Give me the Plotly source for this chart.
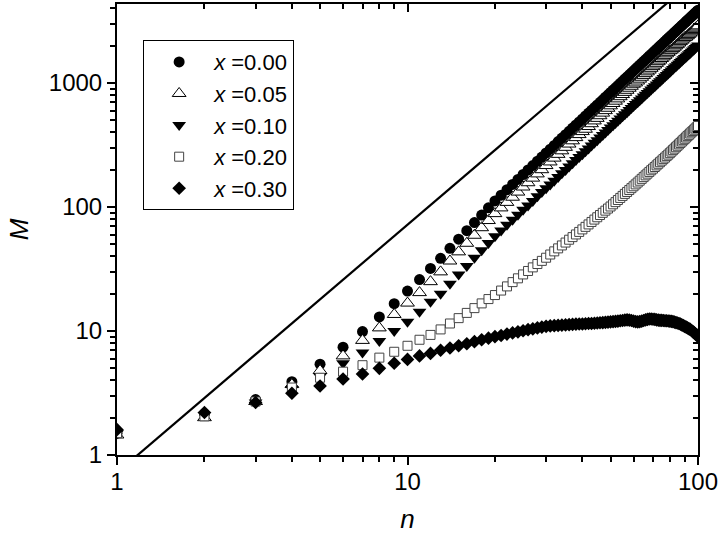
import plotly.graph_objects as go

n_vals = list(range(1, 101))

m_x000 = [1.5, 2.15, 2.8, 3.9, 5.4, 7.4, 9.9, 13.0, 16.6, 21.0,
          26.0, 32.0, 38.6, 46.4, 55.0, 64.5, 74.9, 86.2, 98.5, 112,
          124.5, 138, 152, 167, 183, 199, 216, 234, 253, 273,
          293, 314, 337, 360, 383, 408, 433, 459, 486, 514,
          543, 572, 603, 634, 666, 699, 733, 768, 803, 840,
          877, 915, 955, 995, 1036, 1078, 1120, 1164, 1208, 1254,
          1301, 1348, 1396, 1446, 1496, 1547, 1599, 1652, 1706, 1761,
          1816, 1873, 1931, 1990, 2049, 2110, 2171, 2234, 2297, 2362,
          2427, 2493, 2561, 2629, 2699, 2769, 2840, 2913, 2986, 3060,
          3136, 3212, 3289, 3368, 3447, 3527, 3608, 3691, 3774, 3859]

m_x005 = [1.45, 2.0, 2.7, 3.7, 4.8, 6.3, 8.4, 10.6, 13.6, 16.8,
          20.4, 25.0, 30.0, 36.7, 43.5, 51.0, 59.2, 68.1, 77.8, 88.5,
          98.4, 109, 120, 132, 145, 157, 171, 185, 200, 216,
          231, 248, 266, 284, 303, 322, 342, 363, 384, 406,
          424, 446, 470, 495, 519, 545, 572, 599, 626, 655,
          684, 714, 745, 776, 808, 841, 874, 908, 942, 978,
          1002, 1038, 1075, 1113, 1152, 1191, 1231, 1272, 1314, 1356,
          1398, 1442, 1487, 1532, 1578, 1625, 1672, 1720, 1769, 1819,
          1845, 1895, 1946, 1998, 2051, 2104, 2158, 2214, 2269, 2326,
          2352, 2409, 2467, 2526, 2585, 2645, 2706, 2768, 2831, 2894]

m_x010 = [1.5, 2.1, 2.65, 3.4, 4.3, 5.5, 6.7, 8.3, 10.0, 11.9,
          14.3, 17.2, 20.0, 24.1, 28.6, 33.5, 38.9, 44.8, 51.2, 58.2,
          64.7, 71.8, 79.0, 86.8, 95.2, 103, 112, 122, 132, 142,
          152, 163, 175, 187, 199, 212, 225, 239, 253, 267,
          282, 297, 314, 330, 346, 363, 381, 399, 418, 437,
          456, 476, 497, 517, 539, 561, 582, 605, 628, 652,
          677, 701, 726, 752, 778, 804, 831, 859, 887, 916,
          944, 974, 1004, 1035, 1065, 1097, 1129, 1162, 1194, 1228,
          1262, 1296, 1332, 1367, 1403, 1440, 1477, 1515, 1553, 1591,
          1631, 1670, 1710, 1751, 1792, 1834, 1876, 1919, 1962, 2007]

m_x020 = [1.5, 2.05, 2.7, 3.5, 4.2, 4.7, 5.3, 6.1, 6.8, 7.6,
          8.5, 9.3, 10.3, 11.5, 12.7, 14.0, 15.3, 16.7, 18.1, 19.5,
          21.2, 22.9, 24.8, 26.6, 28.6, 30.5, 32.6, 34.7, 36.8, 39.0,
          41.4, 43.9, 46.4, 49.0, 51.7, 54.5, 57.2, 60.1, 63.0, 66.0,
          69.2, 72.4, 75.8, 79.2, 82.7, 86.2, 89.8, 93.5, 97.2, 101,
          105.2, 109.5, 113.9, 118.4, 122.9, 127.6, 132.3, 137.1, 142.0, 147,
          152.3, 157.6, 163.1, 168.7, 174.3, 180.1, 185.9, 191.9, 198.0, 204,
          210.3, 216.7, 223.3, 229.9, 236.6, 243.5, 250.4, 257.4, 264.6, 272,
          279.7, 287.6, 295.6, 303.7, 312.0, 320.3, 328.8, 337.4, 346.1, 355,
          364, 373, 382, 392, 401, 410, 420, 430, 440, 450]

m_x030 = [1.6, 2.2, 2.65, 3.15, 3.6, 4.1, 4.5, 5.0, 5.5, 5.9,
          6.3, 6.6, 7.0, 7.3, 7.6, 7.9, 8.2, 8.5, 8.75, 9.0,
          9.2, 9.45, 9.65, 9.85, 10.05, 10.25, 10.4, 10.6, 10.75, 10.9,
          11.0, 11.05, 11.1, 11.15, 11.2, 11.25, 11.3, 11.35, 11.4, 11.4,
          11.45, 11.5, 11.5, 11.55, 11.6, 11.65, 11.7, 11.75, 11.8, 11.85,
          11.9, 11.95, 12.0, 12.1, 12.15, 12.25, 12.3, 12.25, 12.15, 12.0,
          11.9, 11.85, 11.9, 12.0, 12.15, 12.3, 12.4, 12.5, 12.5, 12.45,
          12.4, 12.3, 12.25, 12.2, 12.2, 12.15, 12.1, 12.1, 12.05, 12.0,
          11.95, 11.9, 11.8, 11.7, 11.6, 11.5, 11.35, 11.2, 11.05, 10.9,
          10.75, 10.6, 10.45, 10.3, 10.1, 9.9, 9.7, 9.5, 9.3, 9.0]

line_n = [1, 100]
line_m = [0.72, 7200]

series_names = ["<i>x</i> =0.00", "<i>x</i> =0.05", "<i>x</i> =0.10",
                "<i>x</i> =0.20", "<i>x</i> =0.30"]

x_tickvals = [1, 10, 100]
x_ticktext = ["1", "10", "100"]
x_minor = [2, 3, 4, 5, 6, 7, 8, 9, 20, 30, 40, 50, 60, 70, 80, 90]
y_tickvals = [1, 10, 100, 1000]
y_ticktext = ["1", "10", "100", "1000"]
y_minor = [2, 3, 4, 5, 6, 7, 8, 9, 20, 30, 40, 50, 60, 70, 80, 90,
           200, 300, 400, 500, 600, 700, 800, 900, 2000, 3000, 4000]

FONT = "Arial, Liberation Sans, sans-serif"

fig = go.Figure()

fig.add_trace(go.Scatter(x=line_n, y=line_m, mode="lines",
                         line=dict(color="black", width=2.2),
                         showlegend=False, hoverinfo="skip"))

styles = [
    dict(symbol="circle", size=11, color="black", line=dict(color="black", width=0)),
    dict(symbol="triangle-up", size=12, color="white", line=dict(color="black", width=1)),
    dict(symbol="triangle-down", size=12, color="black", line=dict(color="black", width=0)),
    dict(symbol="square", size=9, color="white", line=dict(color="#444444", width=1)),
    dict(symbol="diamond", size=10.5, color="black", line=dict(color="black", width=0)),
]
data = [m_x000, m_x005, m_x010, m_x020, m_x030]

for name, vals, st in zip(series_names, data, styles):
    fig.add_trace(go.Scatter(x=n_vals, y=vals, mode="markers", name=name,
                             marker=st, cliponaxis=True))

# invisible trace so the mirrored (inside) tick axes on top/right are drawn
fig.add_trace(go.Scatter(x=line_n, y=line_m, xaxis="x2", yaxis="y2",
                         mode="lines", line=dict(width=0, color="rgba(0,0,0,0)"),
                         showlegend=False, hoverinfo="skip"))

ymax_log = 3.6375

def minor_cfg(vals, side):
    return dict(tickmode="array", tickvals=vals, ticks=side, ticklen=5,
                tickwidth=1.5, tickcolor="black", showgrid=False)

fig.update_layout(
    width=720, height=537,
    margin=dict(l=117, r=22, t=4, b=82, autoexpand=False),
    paper_bgcolor="white", plot_bgcolor="white",
    font=dict(family=FONT, color="black", size=24),
    showlegend=True,
    legend=dict(x=0.045, y=0.92, xanchor="left", yanchor="top",
                bordercolor="black", borderwidth=1, bgcolor="white",
                itemwidth=60,
                font=dict(size=22, family=FONT), tracegroupgap=0),
    xaxis=dict(type="log", range=[0, 2], showgrid=False, zeroline=False,
               automargin=False,
               tickmode="array", tickvals=x_tickvals, ticktext=x_ticktext,
               ticks="outside", ticklen=8, tickwidth=2, tickcolor="black",
               ticklabelstandoff=-4,
               showline=True, linewidth=2, linecolor="black", mirror=True,
               minor=minor_cfg(x_minor, "outside"),
               title=dict(text="<i>n</i>", font=dict(size=26), standoff=16),
               tickfont=dict(size=24)),
    yaxis=dict(type="log", range=[0, ymax_log], showgrid=False, zeroline=False,
               automargin=False,
               tickmode="array", tickvals=y_tickvals, ticktext=y_ticktext,
               ticks="outside", ticklen=8, tickwidth=2, tickcolor="black",
               showline=True, linewidth=2, linecolor="black", mirror=True,
               minor=minor_cfg(y_minor, "outside"),
               title=dict(text="<i>M</i>", font=dict(size=26), standoff=13),
               tickfont=dict(size=24)),
    xaxis2=dict(type="log", range=[0, 2], overlaying="x", side="top",
                anchor="y", showgrid=False, zeroline=False, automargin=False,
                tickmode="array", tickvals=x_tickvals, showticklabels=False,
                ticks="inside", ticklen=8, tickwidth=2, tickcolor="black",
                minor=minor_cfg(x_minor, "inside")),
    yaxis2=dict(type="log", range=[0, ymax_log], overlaying="y", side="right",
                anchor="x", showgrid=False, zeroline=False, automargin=False,
                tickmode="array", tickvals=y_tickvals, showticklabels=False,
                ticks="inside", ticklen=8, tickwidth=2, tickcolor="black",
                minor=minor_cfg(y_minor, "inside")),
)

fig.write_html("out.html", config={"displayModeBar": False},
               post_script="document.body.style.margin='0';")
